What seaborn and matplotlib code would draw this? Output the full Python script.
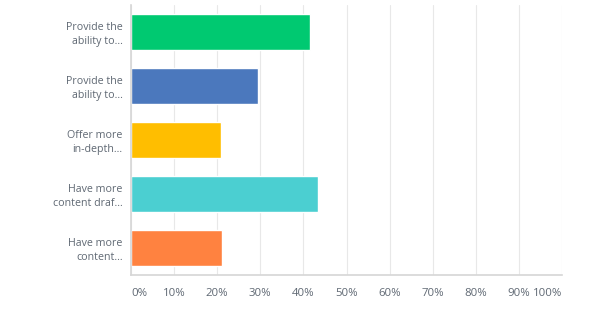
import matplotlib
matplotlib.use("Agg")
import matplotlib.pyplot as plt
import seaborn as sns
import pandas as pd

categories = ["Provide the\nability to…", "Provide the\nability to…", "Offer more\nin-depth…",
              "Have more\ncontent draf…", "Have more\ncontent…"]
values = [41.6, 29.5, 20.8, 43.5, 21.2]
colors = ["#00C971", "#4B78BD", "#FFBE00", "#4BCFD1", "#FF8240"]
tick_vals = [0, 10, 20, 30, 40, 50, 60, 70, 80, 90, 100]
tick_labels = ["0%", "10%", "20%", "30%", "40%", "50%", "60%", "70%", "80%", "90%", "100%"]

sns.set_theme(style="white")
plt.rcParams['font.family'] = ['Open Sans', 'DejaVu Sans']

df = pd.DataFrame({"key": [str(i) for i in range(len(categories))], "val": values})
fig = plt.figure(figsize=(6.07, 3.15), dpi=100)
ax = fig.add_axes([131/607, 40/315, 431/607, 270/315])
sns.barplot(data=df, y="key", x="val", hue="key", palette=colors, legend=False,
            orient="h", width=0.667, ax=ax, saturation=1)
ax.set_yticks(range(len(categories)))
ax.set_yticklabels(categories)
ax.set_xlim(0, 100)
ax.set_xticks(tick_vals)
ax.set_xticklabels(tick_labels)
ax.set_xlabel("")
ax.set_ylabel("")
ax.grid(axis="x", color="#e8e8e8", linewidth=0.8)
ax.set_axisbelow(True)
for s in ["top", "right"]:
    ax.spines[s].set_visible(False)
for s in ["left", "bottom"]:
    ax.spines[s].set_color("#d6d6d6")
    ax.spines[s].set_linewidth(1.2)
ax.tick_params(axis="x", length=0, pad=9, labelsize=8.2, labelcolor="#5f6873")
ax.tick_params(axis="y", length=0, pad=6, labelsize=7.7, labelcolor="#5f6873")
xl = ax.get_xticklabels()
xl[0].set_ha("left")
xl[-1].set_ha("right")
for t in ax.get_yticklabels():
    t.set_multialignment("right")
    t.set_linespacing(1.35)
fig.savefig("out.png", dpi=100)
